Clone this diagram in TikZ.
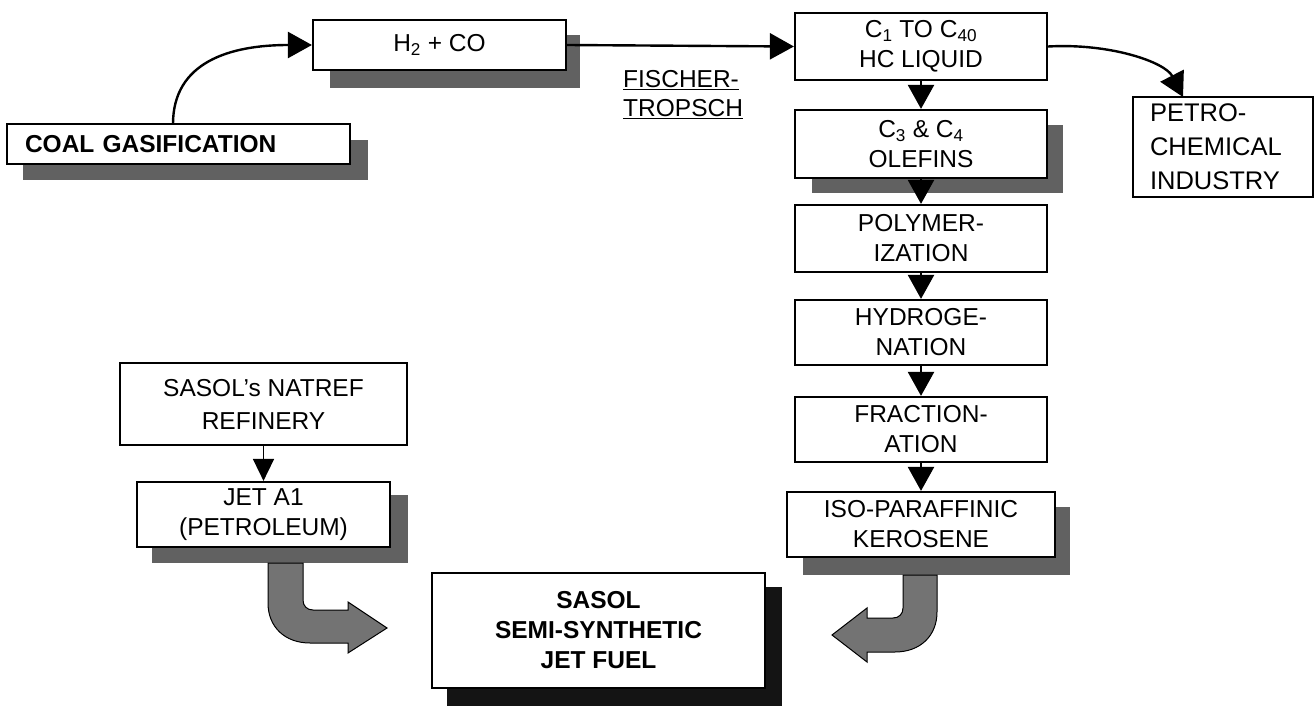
\documentclass[tikz,border=0pt]{standalone}
\usepackage{fontspec}
\setmainfont{Liberation Sans}
\usetikzlibrary{arrows.meta}
\begin{document}
\begin{tikzpicture}[x=1pt,y=-1pt,
  box/.style={draw=black, line width=2.2pt, fill=white, inner sep=0pt, align=center,
    font=\fontsize{24.5}{30}\selectfont},
  shade/.style={fill=black!62},
  darkshade/.style={fill=black!92},
  flow/.style={line width=2.4pt, -{Triangle[length=24pt,width=26pt]}},
  bigarrow/.style={draw=black, line width=1pt, fill=black!55},
  lbl/.style={inner sep=0pt, align=left, font=\fontsize{24.5}{29}\selectfont}
]
\useasboundingbox (0,0) rectangle (1315,706);

% shadows
\fill[shade] (23,140) rectangle (368,180);
\fill[shade] (330,35) rectangle (580,88);
\fill[shade] (812,125) rectangle (1063,193);
\fill[shade] (803,507) rectangle (1070,575);
\fill[shade] (152,495) rectangle (408,563);
\fill[darkshade] (447,587) rectangle (782,706);

% boxes
\node[box, minimum width=343pt, minimum height=40pt, text width=307pt, align=left,
  font=\bfseries\fontsize{24.5}{30}\selectfont] (coal) at (178.5,144) {COAL GASIFICATION};
\node[box, minimum width=253pt, minimum height=50pt] (h2) at (439.5,45) {H\textsubscript{2} + CO};
\node[box, minimum width=252pt, minimum height=67pt] (c1) at (921,46.5) {C\textsubscript{1} TO C\textsubscript{40}\\HC LIQUID};
\node[box, minimum width=252pt, minimum height=68pt] (c3) at (921,144) {C\textsubscript{3} \& C\textsubscript{4}\\OLEFINS};
\node[box, minimum width=252pt, minimum height=67pt] (poly) at (921,238.5) {POLYMER-\\IZATION};
\node[box, minimum width=252pt, minimum height=65pt] (hydro) at (921,332.5) {HYDROGE-\\NATION};
\node[box, minimum width=252pt, minimum height=65pt] (frac) at (921,429.5) {FRACTION-\\ATION};
\node[box, minimum width=268pt, minimum height=65pt] (iso) at (921,524.5) {ISO-PARAFFINIC\\KEROSENE};
\node[box, minimum width=180pt, minimum height=100pt, text width=146pt, align=left,
  font=\fontsize{25.5}{34}\selectfont] (petro) at (1223,147) {PETRO-\\CHEMICAL\\INDUSTRY};
\node[box, minimum width=287pt, minimum height=82pt, font=\fontsize{24.5}{33}\selectfont] (natref) at (263.5,404) {SASOL's NATREF\\REFINERY};
\node[box, minimum width=253pt, minimum height=65pt] (jet) at (263.5,514.5) {JET A1\\(PETROLEUM)};
\node[box, minimum width=333pt, minimum height=115pt,
  font=\bfseries\fontsize{24.5}{30}\selectfont] (final) at (598.5,630.5) {SASOL\\SEMI-SYNTHETIC\\JET FUEL};

% label
\node[lbl, anchor=north west] (ft) at (623,70) {\underline{FISCHER-}\\\underline{TROPSCH}};

% connectors
\coordinate (coalstart) at (173,124);
\draw[flow] (coalstart) .. controls (173,62) and (230,45) .. (h2.west);
\draw[flow] (h2.east) -- (c1.west);
\coordinate (petroend) at (1183,97);
\draw[flow] (c1.east) .. controls (1110,43) and (1165,62) .. (petroend);
\draw[flow] (c1.south) -- (c3.north);
\draw[flow] (c3.south) -- (poly.north);
\draw[flow] (poly.south) -- (hydro.north);
\draw[flow] (hydro.south) -- (frac.north);
\draw[flow] (frac.south) -- (iso.north);
\draw[flow, line width=1.6pt, -{Triangle[length=22pt,width=21pt]}] (natref.south) -- (jet.north);

% big bent arrows
\draw[bigarrow] (268,563) -- (268,603) .. controls (268,627) and (285,643) .. (310,643)
  -- (348,643) -- (348,653) -- (387,628) -- (348,602) -- (348,610) -- (313,610)
  .. controls (307,610) and (303,606) .. (303,600) -- (303,563) -- cycle;
\draw[bigarrow] (937,575) -- (937,612) .. controls (937,636) and (920,652) .. (895,652)
  -- (867,652) -- (867,662) -- (832,635) -- (867,608) -- (867,618) -- (893,618)
  .. controls (899,618) and (903,614) .. (903,608) -- (903,575) -- cycle;
\end{tikzpicture}
\end{document}
